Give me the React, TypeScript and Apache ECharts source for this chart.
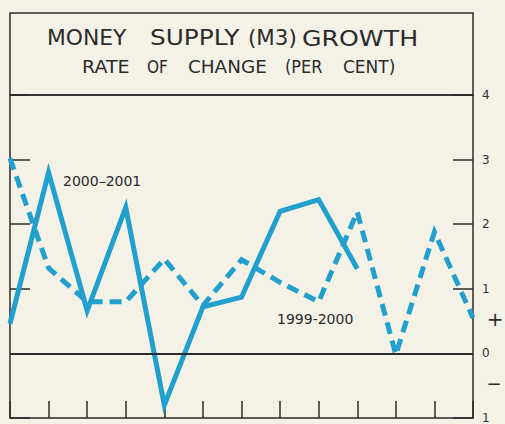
import React, { useEffect, useRef } from "react";
import * as echarts from "echarts";

// 13 month positions along the x axis (no labels shown)
const months = ["m0", "m1", "m2", "m3", "m4", "m5", "m6", "m7", "m8", "m9", "m10", "m11", "m12"];
// Rate of change (per cent)
const growth2000_2001 = [0.46, 2.8, 0.66, 2.26, -0.8, 0.72, 0.87, 2.2, 2.38, 1.31];
const growth1999_2000 = [3.02, 1.32, 0.8, 0.8, 1.46, 0.74, 1.45, 1.1, 0.8, 2.19, -0.02, 1.88, 0.55];
const seriesNames = ["2000–2001", "1999-2000"];
const titleWords = ["MONEY", "SUPPLY", "(M3)", "GROWTH"];
const subtitleWords = ["RATE", "OF", "CHANGE", "(PER", "CENT)"];
const yMin = -1;
const yMax = 4;

const INK = "#2b2b2b";
const BLUE = "#21a0cd";
const PAPER = "#f4f1e6";

export default function App() {
  const ref = useRef<HTMLDivElement>(null);
  useEffect(() => {
    if (!ref.current) return;
    const chart = echarts.init(ref.current, undefined, { renderer: "svg" });
    const titleX = [47, 150, 248, 302];
    const titleScale = [1.04, 1.18, 1.02, 1.2];
    const subX = [82, 147, 188, 285, 343];
    const subScale = [1.12, 0.9, 1.08, 0.95, 1.0];
    const graphics: any[] = [
      {
        type: "rect",
        shape: { x: 10, y: 13, width: 463, height: 82 },
        style: { fill: "none", stroke: INK, lineWidth: 1.5 },
        silent: true,
      },
      ...titleWords.map((w, i) => ({
        type: "text",
        x: titleX[i],
        y: 38,
        scaleX: titleScale[i],
        style: {
          text: w,
          fill: INK,
          font: '21px "DejaVu Sans"',
          textVerticalAlign: "middle",
        },
      })),
      ...subtitleWords.map((w, i) => ({
        type: "text",
        x: subX[i],
        y: 67,
        scaleX: subScale[i],
        style: {
          text: w,
          fill: INK,
          font: '17px "DejaVu Sans"',
          textVerticalAlign: "middle",
        },
      })),
      {
        type: "text",
        x: 63,
        y: 181,
        style: { text: seriesNames[0], fill: INK, font: '14px "DejaVu Sans"', textVerticalAlign: "middle" },
      },
      {
        type: "text",
        x: 277,
        y: 319,
        style: { text: seriesNames[1], fill: INK, font: '14px "DejaVu Sans"', textVerticalAlign: "middle" },
      },
      {
        type: "text",
        x: 495,
        y: 319,
        style: { text: "+", fill: INK, font: '20px "DejaVu Sans"', textAlign: "center", textVerticalAlign: "middle" },
      },
      {
        type: "text",
        x: 494,
        y: 383,
        style: { text: "−", fill: INK, font: '18px "DejaVu Sans"', textAlign: "center", textVerticalAlign: "middle" },
      },
    ];

    const yCommon = {
      type: "value",
      min: yMin,
      max: yMax,
      interval: 1,
      axisLine: { show: false },
      splitLine: { show: false },
      axisTick: { show: true, inside: true, length: 20, lineStyle: { color: INK, width: 1.5 } },
    };

    chart.setOption({
      animation: false,
      backgroundColor: PAPER,
      grid: {
        left: 10,
        right: 32,
        top: 95,
        bottom: 3,
        show: true,
        borderColor: INK,
        borderWidth: 1.5,
        backgroundColor: "transparent",
      },
      graphic: graphics,
      xAxis: {
        type: "category",
        data: months,
        boundaryGap: false,
        position: "bottom",
        axisLine: { show: false, onZero: false },
        axisTick: { show: true, inside: true, length: 17, interval: 0, lineStyle: { color: INK, width: 1.5 } },
        axisLabel: { show: false },
        splitLine: { show: false },
      },
      yAxis: [
        {
          ...yCommon,
          position: "right",
          axisLabel: {
            show: true,
            margin: 9,
            color: "#333",
            fontSize: 12,
            fontFamily: "DejaVu Sans",
            formatter: (v: number) => String(Math.abs(v)),
          },
        },
        { ...yCommon, position: "left", axisLabel: { show: false } },
      ],
      series: [
        {
          name: seriesNames[1],
          type: "line",
          data: growth1999_2000,
          symbol: "none",
          z: 3,
          lineStyle: { color: BLUE, width: 5, type: [12, 7], cap: "butt", join: "miter" },
          markLine: {
            silent: true,
            symbol: ["none", "none"],
            label: { show: false },
            lineStyle: { color: INK, width: 2, type: "solid" },
            data: [{ yAxis: 0 }],
          },
        },
        {
          name: seriesNames[0],
          type: "line",
          data: growth2000_2001,
          symbol: "none",
          z: 4,
          lineStyle: { color: BLUE, width: 5, join: "miter", miterLimit: 10 },
        },
      ],
    });
    return () => chart.dispose();
  }, []);
  return (
    <div
      ref={ref}
      style={{ position: "fixed", left: 0, top: 0, width: 505, height: 424, background: PAPER }}
    />
  );
}
